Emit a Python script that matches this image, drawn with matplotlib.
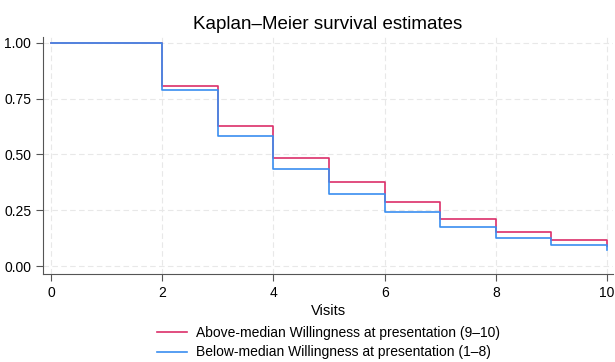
import numpy as np
import matplotlib
matplotlib.use("Agg")
import matplotlib.pyplot as plt

# step times and survival estimates
visits = [0, 2, 3, 4, 5, 6, 7, 8, 9, 10]
surv_above = [1.00, 0.809, 0.627, 0.485, 0.377, 0.288, 0.209, 0.152, 0.116, 0.090]
surv_below = [1.00, 0.788, 0.582, 0.436, 0.322, 0.242, 0.173, 0.127, 0.093, 0.072]
labels = ["Above-median Willingness at presentation (9\u201310)",
          "Below-median Willingness at presentation (1\u20138)"]
colors = ["#DC2F6A", "#3A8EF0"]

plt.rcParams['font.family'] = ['Liberation Sans', 'DejaVu Sans']

fig = plt.figure(figsize=(6.15, 3.62), dpi=100)
ax = fig.add_axes([0.070, 0.243, 0.927, 0.655])

for s, lab, c in zip([surv_above, surv_below], labels, colors):
    ax.step(visits, s, where='post', color=c, lw=1.2, label=lab)

ax.set_xlim(-0.144, 10.11)
ax.set_ylim(-0.036, 1.027)
ax.set_xticks(range(0, 11, 2))
ax.set_yticks([0, 0.25, 0.5, 0.75, 1.0])
ax.set_yticklabels(["0.00", "0.25", "0.50", "0.75", "1.00"])
ax.grid(True, ls=(0, (5, 3)), color='#e8e8e8', lw=0.8)
ax.set_axisbelow(True)
for sp in ['top', 'right']:
    ax.spines[sp].set_visible(False)
for sp in ['left', 'bottom']:
    ax.spines[sp].set_color('#555555')
ax.tick_params(labelsize=10, color='#555555', length=5, width=0.8)
ax.set_xlabel("Visits", fontsize=10.5, labelpad=3)
ax.set_title("Kaplan\u2013Meier survival estimates", fontsize=13.5, pad=6)

ax.legend(loc='upper center', bbox_to_anchor=(0.5, -0.195), frameon=False,
          fontsize=10, handlelength=2.2, handletextpad=0.6,
          labelspacing=0.4, borderaxespad=0)

fig.savefig("out.png", dpi=100)
